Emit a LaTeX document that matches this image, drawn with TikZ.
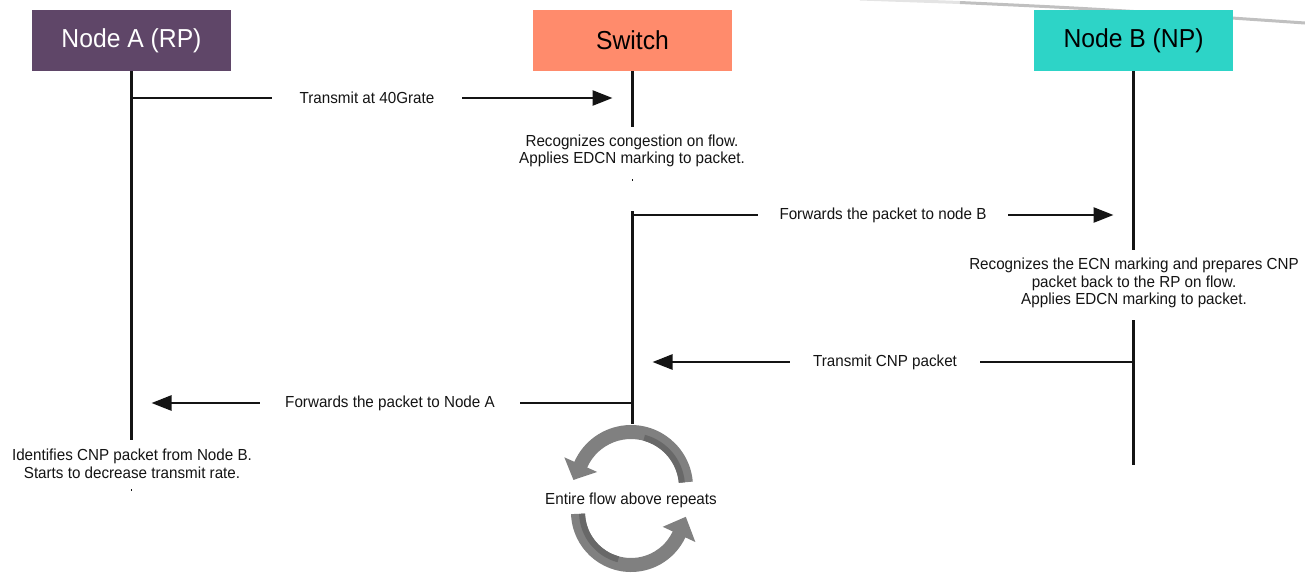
\documentclass[tikz,border=0pt]{standalone}
\usepackage{fontspec}
\setmainfont{Liberation Sans}[FakeStretch=0.95]
\usetikzlibrary{arrows.meta,calc}
\definecolor{nodeA}{RGB}{95,70,104}
\definecolor{sw}{RGB}{255,139,108}
\definecolor{nodeB}{RGB}{45,212,199}
\definecolor{cyc}{RGB}{128,128,128}
\definecolor{cycdark}{RGB}{104,104,104}
\definecolor{edge}{RGB}{192,192,192}
\definecolor{edgefaint}{RGB}{228,228,228}
\definecolor{ink}{RGB}{20,20,20}
\begin{document}
\begin{tikzpicture}[x=1pt,y=-1pt,
  hdr/.style={minimum width=199pt, minimum height=61pt, inner sep=0pt, font=\fontsize{26}{28}\selectfont},
  lbl/.style={font=\fontsize{16}{17.5}\selectfont, inner sep=0pt, align=center, text=ink},
  gaplbl/.style={lbl, minimum height=16pt},
  life/.style={line width=3pt, ink},
  msg/.style={line width=2.6pt, ink},
  tip/.style={-{Triangle[length=20pt,width=15pt]}, shorten >=20pt},
  cycfill/.style={fill=cyc},
  cycshade/.style={fill=cycdark}]
\useasboundingbox (0,0) rectangle (1305,574);

% faint edge line at the top right
\coordinate (g0) at (860,-1);
\coordinate (g1) at (960,2.5);
\coordinate (g2) at (1305,23);
\draw[edgefaint, line width=3pt] (g0) -- (g1);
\draw[edge, line width=3pt] (g1) .. controls (1100,9) .. (g2);

% header boxes
\node[hdr, fill=nodeA, text=white] (A) at (131.5,40.5) {Node A (RP)};
\node[hdr, fill=sw, text=black] (S) at (632.5,40.5) {Switch};
\node[hdr, fill=nodeB, text=black] (B) at (1133.5,40.5) {Node B (NP)};

% lifeline end points
\coordinate (Aend) at (131.5,440);
\coordinate (Sa) at (632.5,127);
\coordinate (Sb) at (632.5,211);
\coordinate (Sc) at (632.5,424);
\coordinate (Ba) at (1133.5,250);
\coordinate (Bb) at (1133.5,320);
\coordinate (Bc) at (1133.5,465);

% lifelines
\draw[life] (A.south) -- (Aend);
\draw[life] (S.south) -- (Sa);
\draw[life] (Sb) -- (Sc);
\draw[life] (B.south) -- (Ba);
\draw[life] (Bb) -- (Bc);
\coordinate (Sd1) at (632.5,179);
\coordinate (Sd2) at (632.5,181);
\draw[line width=1pt, ink] (Sd1) -- (Sd2);
\coordinate (Ad1) at (131.5,489);
\coordinate (Ad2) at (131.5,491);
\draw[line width=1pt, ink] (Ad1) -- (Ad2);

% message labels (width = gap between line segments)
\node[gaplbl, minimum width=190pt] (m1) at (367,98) {Transmit at 40Grate};
\node[gaplbl, minimum width=250pt] (m2) at (883,215) {Forwards the packet to node B};
\node[gaplbl, minimum width=190pt] (m3) at (885,362) {Transmit CNP packet};
\node[gaplbl, minimum width=260pt] (m4) at (390,403) {Forwards the packet to Node A};

% messages
\draw[msg] (A.south |- m1) -- (m1.west);
\draw[msg, tip] (m1.east) -- (S.south |- m1);
\draw[msg] (S.south |- m2) -- (m2.west);
\draw[msg, tip] (m2.east) -- (B.south |- m2);
\draw[msg] (B.south |- m3) -- (m3.east);
\draw[msg, tip] (m3.west) -- (S.south |- m3);
\draw[msg] (S.south |- m4) -- (m4.east);
\draw[msg, tip] (m4.west) -- (A.south |- m4);

% notes
\node[lbl] (ns) at (632,151) {Recognizes congestion on flow.\\Applies EDCN marking to packet.};
\node[lbl] (nb) at (1134,283) {Recognizes the ECN marking and prepares CNP\\packet back to the RP on flow.\\Applies EDCN marking to packet.};
\node[lbl] (na) at (132,464) {Identifies CNP packet from Node B.\\Starts to decrease transmit rate.};

% repeat cycle
\coordinate (ct) at (631,487);
\coordinate (cb) at (631,512);
\fill[cycfill] ($(ct)+(-5:62)$) arc[start angle=-5, end angle=-156, radius=62]
  -- ($(ct)+(-156:73)$) -- ($(ct)+(-173:58)$) -- ($(ct)+(-156:37)$)
  -- ($(ct)+(-156:48)$) arc[start angle=-156, end angle=-5, radius=48] -- cycle;
\fill[cycshade] ($(ct)+(-5:48)$) arc[start angle=-5, end angle=-75, radius=48]
  -- ($(ct)+(-75:54)$) arc[start angle=-75, end angle=-5, radius=54] -- cycle;
\fill[cycfill] ($(cb)+(178:60)$) arc[start angle=178, end angle=25, radius=60]
  -- ($(cb)+(25:71)$) -- ($(cb)+(5:55)$) -- ($(cb)+(25:35)$)
  -- ($(cb)+(25:46)$) arc[start angle=25, end angle=178, radius=46] -- cycle;
\fill[cycshade] ($(cb)+(178:46)$) arc[start angle=178, end angle=105, radius=46]
  -- ($(cb)+(105:52)$) arc[start angle=105, end angle=178, radius=52] -- cycle;
\node[lbl] (nc) at (631,500) {Entire flow above repeats};
\end{tikzpicture}
\end{document}
